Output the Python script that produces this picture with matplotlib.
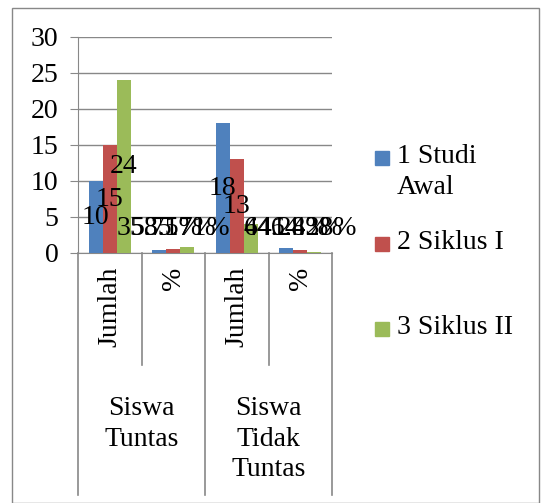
import matplotlib.pyplot as plt
from matplotlib.patches import Rectangle
import matplotlib.transforms as mtransforms

plt.rcParams['font.family'] = ['Liberation Serif', 'DejaVu Serif']

# data
categories = ['Jumlah', '%', 'Jumlah', '%']
groups = ['Siswa\nTuntas', 'Siswa\nTidak\nTuntas']
series_names = ['1 Studi\nAwal', '2 Siklus I', '3 Siklus II']
studi_awal = [10, 0.3571, 18, 0.6428]
siklus_1 = [15, 0.5357, 13, 0.4643]
siklus_2 = [24, 0.8571, 4, 0.1428]
labels_awal = ['10', '35.71%', '18', '64.28%']
labels_s1 = ['15', '53.57%', '13', '46.43%']
labels_s2 = ['24', '85.71%', '4', '14.28%']
colors = ['#4F81BD', '#C0504D', '#9BBB59']

fig = plt.figure(figsize=(5.44, 5.03), dpi=100)
ax = fig.add_axes([78/544, 1-253/503, (332-78)/544, (253-37)/503])

fs = 20
w = 0.22
x = list(range(len(categories)))
allvals = [studi_awal, siklus_1, siklus_2]
alllabels = [labels_awal, labels_s1, labels_s2]
for i, (vals, labs) in enumerate(zip(allvals, alllabels)):
    pos = [p + (i-1)*w for p in x]
    ax.bar(pos, vals, w, color=colors[i], zorder=3)
    for p, v, lab in zip(pos, vals, labs):
        ax.text(p, max(v/2, 3.4), lab, ha='center', va='center',
                fontsize=fs, zorder=4)

ax.set_xlim(-0.5, 3.5)
ax.set_ylim(0, 30)
ax.set_yticks(range(0, 31, 5))
ax.tick_params(axis='y', labelsize=fs, length=6, color='#888888', pad=8)
ax.set_xticks([])
ax.grid(axis='y', color='#888888', linewidth=1, zorder=0)
for s in ['top', 'right']:
    ax.spines[s].set_visible(False)
ax.spines['left'].set_color('#888888')
ax.spines['bottom'].set_color('#888888')
ax.spines['left'].set_zorder(5)

trans = mtransforms.blended_transform_factory(ax.transData, ax.transAxes)
h = 216.0
for b in [-0.5, 1.5, 3.5]:
    ax.plot([b, b], [0, -(495-253)/h], color='#888888', lw=1.2,
            transform=trans, clip_on=False)
for b in [0.5, 2.5]:
    ax.plot([b, b], [0, -(365-253)/h], color='#888888', lw=1.2,
            transform=trans, clip_on=False)
for p, c in zip(x, categories):
    ax.text(p, -(267-253)/h, c, rotation=90, ha='center', va='top',
            fontsize=fs, transform=trans)
for gi, g in enumerate(groups):
    ax.text(0.5 + 2*gi, -(396-253)/h, g, ha='center', va='top',
            fontsize=fs, linespacing=1.3, transform=trans)

# legend
leg_y = [157, 243, 328]
for c, name, yy in zip(colors, series_names, leg_y):
    fig.patches.append(Rectangle((375/544, 1-(yy+8)/503), 14/544, 14/503,
                                 color=c, transform=fig.transFigure))
    fig.text(397/544, 1-(yy-13)/503, name, ha='left', va='top',
             fontsize=fs, linespacing=1.3)

# outer border
fig.patches.append(Rectangle((12/544, 0.5/503), 527/544, (503-8.5)/503,
                             fill=False, edgecolor='#888888', lw=1,
                             transform=fig.transFigure))

fig.savefig('out.png', dpi=100)
